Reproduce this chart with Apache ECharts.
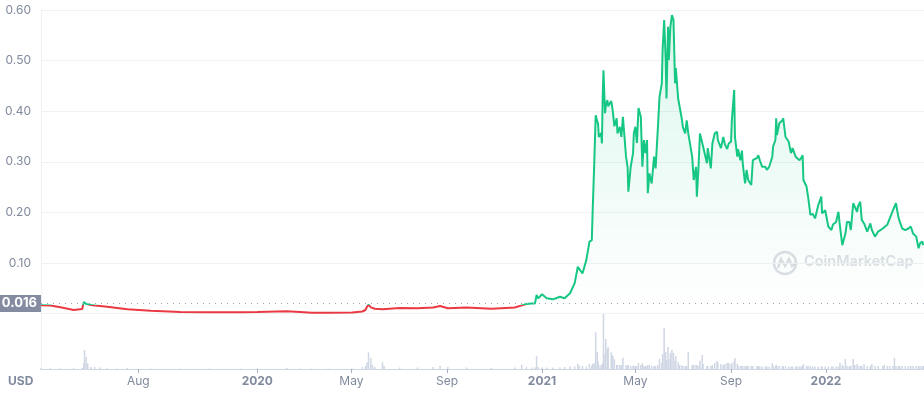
<!DOCTYPE html>
<html><head><meta charset="utf-8">
<script src="https://cdn.jsdelivr.net/npm/echarts@6/dist/echarts.min.js"></script>
<style>html,body{margin:0;padding:0;background:#fff}#c{width:924px;height:394px}</style>
</head><body><div id="c"></div>
<script>
const dates = [
'2019-03-29','2019-04-10','2019-04-23','2019-05-10','2019-05-21','2019-05-23','2019-05-24','2019-05-26','2019-05-28','2019-06-01','2019-06-06','2019-06-13','2019-06-22',
'2019-07-05','2019-07-18','2019-08-17','2019-09-24','2019-11-01','2019-12-10',
'2020-01-01','2020-02-08','2020-02-25','2020-03-11','2020-04-01','2020-05-02','2020-05-15','2020-05-19','2020-05-21','2020-05-23','2020-05-26','2020-05-28','2020-05-31',
'2020-06-10','2020-06-12','2020-07-02','2020-07-25','2020-08-14','2020-08-23','2020-09-02','2020-09-26','2020-10-28','2020-11-27',
'2020-12-06','2020-12-12','2020-12-19','2020-12-23','2020-12-25','2020-12-27',
'2021-01-01','2021-01-07','2021-01-15','2021-01-24','2021-01-30','2021-02-06','2021-02-12','2021-02-16','2021-02-18','2021-02-22','2021-02-27',
'2021-03-03','2021-03-06','2021-03-07','2021-03-09','2021-03-11','2021-03-13','2021-03-14','2021-03-15','2021-03-18','2021-03-19','2021-03-20','2021-03-21',
'2021-03-23','2021-03-24','2021-03-26','2021-03-27','2021-03-31','2021-04-01','2021-04-02','2021-04-04','2021-04-07','2021-04-08','2021-04-11','2021-04-13',
'2021-04-15','2021-04-19','2021-04-21','2021-04-22','2021-04-25','2021-04-28','2021-04-29','2021-05-01','2021-05-03','2021-05-05','2021-05-08','2021-05-10',
'2021-05-12','2021-05-14','2021-05-16','2021-05-17','2021-05-19','2021-05-22','2021-05-25','2021-05-27','2021-05-30','2021-06-01','2021-06-04','2021-06-05',
'2021-06-07','2021-06-09','2021-06-10','2021-06-12','2021-06-13','2021-06-15','2021-06-17','2021-06-19','2021-06-21','2021-06-22','2021-06-25','2021-06-27',
'2021-06-30','2021-07-01','2021-07-04','2021-07-06','2021-07-08','2021-07-13','2021-07-15','2021-07-18','2021-07-19','2021-07-21','2021-07-23','2021-07-26',
'2021-07-27','2021-08-01','2021-08-02','2021-08-06','2021-08-08','2021-08-11','2021-08-14','2021-08-15','2021-08-19','2021-08-22','2021-08-24','2021-08-27',
'2021-08-29','2021-09-01','2021-09-02','2021-09-05','2021-09-06','2021-09-09','2021-09-10','2021-09-13','2021-09-15','2021-09-16','2021-09-19','2021-09-21',
'2021-09-23','2021-09-27','2021-09-29','2021-10-04','2021-10-06','2021-10-08','2021-10-11','2021-10-15','2021-10-17','2021-10-20','2021-10-24','2021-10-25',
'2021-10-28','2021-10-29','2021-10-30','2021-11-02','2021-11-06','2021-11-07','2021-11-10','2021-11-14','2021-11-17','2021-11-19','2021-11-23','2021-11-25',
'2021-11-28','2021-11-30','2021-12-02','2021-12-03','2021-12-07','2021-12-09','2021-12-12','2021-12-15','2021-12-18','2021-12-22','2021-12-26','2021-12-27',
'2021-12-31','2022-01-04','2022-01-08','2022-01-10','2022-01-14','2022-01-17','2022-01-19','2022-01-22','2022-01-23','2022-01-26','2022-01-28','2022-01-31',
'2022-02-02','2022-02-05','2022-02-07','2022-02-10','2022-02-11','2022-02-14','2022-02-16','2022-02-19','2022-02-23','2022-02-27','2022-03-01','2022-03-05',
'2022-03-09','2022-03-15','2022-03-17','2022-03-21','2022-03-24','2022-03-28','2022-03-30','2022-04-01','2022-04-04','2022-04-06','2022-04-09','2022-04-13',
'2022-04-17','2022-04-20','2022-04-23','2022-04-27','2022-04-30','2022-05-02','2022-05-05','2022-05-06'
];
const prices = [
0.0164,0.0160,0.0122,0.0069,0.0089,0.0227,0.0210,0.0190,0.0180,0.0168,0.0160,0.0150,0.0134,
0.0110,0.0083,0.0055,0.0030,0.0026,0.0024,
0.0028,0.0043,0.0030,0.0016,0.0017,0.0018,0.0040,0.0069,0.0130,0.0174,0.0122,0.0110,0.0095,
0.0083,0.0115,0.0110,0.0103,0.0120,0.0148,0.0103,0.0120,0.0095,0.0120,
0.0160,0.0188,0.0200,0.0200,0.0366,0.0300,
0.0380,0.0300,0.0280,0.0330,0.0300,0.0400,0.0600,0.0925,0.0910,0.0790,0.1060,
0.1420,0.1450,0.1980,0.2900,0.3920,0.3800,0.3760,0.3490,0.3570,0.3360,0.4280,0.4810,
0.3960,0.4100,0.4220,0.4100,0.4200,0.4220,0.4000,0.3700,0.3860,0.3560,0.3690,0.3490,
0.3890,0.3100,0.2900,0.2410,0.2900,0.3170,0.3560,0.3690,0.3370,0.4060,0.3890,0.2900,
0.3430,0.3170,0.3430,0.2380,0.2770,0.2570,0.3100,0.2870,0.3690,0.4280,0.4550,0.5210,
0.5800,0.5010,0.4250,0.5670,0.5010,0.5670,0.5900,0.5800,0.4550,0.4850,0.4250,0.4280,
0.3820,0.3690,0.3560,0.3820,0.3560,0.3100,0.2640,0.2900,0.2310,0.2840,0.3560,0.3370,
0.3340,0.2970,0.3270,0.2870,0.3360,0.3560,0.3590,0.3430,0.3270,0.3490,0.3350,0.3250,
0.3360,0.3400,0.3820,0.4420,0.3490,0.3100,0.3250,0.3030,0.3220,0.2970,0.2570,0.2840,
0.2640,0.2540,0.3030,0.3070,0.3130,0.3030,0.2900,0.2900,0.2840,0.2900,0.3100,0.3300,
0.3430,0.3860,0.3530,0.3760,0.3820,0.3860,0.3490,0.3400,0.3170,0.3270,0.3100,0.3130,
0.3030,0.3070,0.3130,0.2640,0.2510,0.2310,0.1950,0.1970,0.1880,0.2140,0.2310,0.1980,
0.2040,0.1720,0.1650,0.1760,0.1810,0.2010,0.1720,0.1350,0.1320,0.1580,0.1810,0.1810,
0.1650,0.2180,0.2210,0.2010,0.2110,0.2210,0.1850,0.1780,0.1620,0.1780,0.1650,0.1520,
0.1620,0.1680,0.1700,0.1760,0.1880,0.2040,0.2110,0.2180,0.1910,0.1810,0.1680,0.1650,
0.1680,0.1720,0.1580,0.1520,0.1290,0.1390,0.1420,0.1350
];
const volumes = [
10,8,8,8,10,60,190,120,57,20,20,15,8,
6,12,5,5,5,5,
5,10,5,5,5,5,20,30,67,167,110,43,20,
67,30,15,15,20,33,20,15,12,15,
43,20,15,15,130,20,
15,15,15,15,20,25,25,50,30,30,25,
50,30,50,60,367,170,77,40,40,35,60,550,
150,300,200,217,167,140,130,97,40,40,40,40,
113,40,30,40,30,30,35,30,30,60,40,57,
30,30,30,40,40,30,30,30,40,100,60,150,
410,170,90,220,100,160,190,160,80,130,70,40,
35,30,30,30,170,40,40,40,40,30,83,140,
50,30,30,30,40,60,80,60,50,40,50,60,
60,50,60,80,110,50,30,30,30,30,30,30,
30,30,30,30,30,25,25,25,25,25,57,30,
30,40,30,30,30,30,30,25,25,25,25,25,
25,25,30,50,30,30,30,25,25,25,25,25,
25,25,25,25,25,25,63,40,30,100,30,30,
30,100,40,50,30,30,30,50,30,30,50,30,
30,30,40,30,30,30,110,30,30,30,30,30,
30,30,30,30,30,30,30,30
];
const tickDates = ['2019-08-01','2020-01-01','2020-05-01','2020-09-01','2021-01-01','2021-05-01','2021-09-01','2022-01-01'];
const monthNames = ['Jan','Feb','Mar','Apr','May','Jun','Jul','Aug','Sep','Oct','Nov','Dec'];
const baseline = 0.016;
const xMin = '2019-03-29', xMax = '2022-05-07';
const priceMin = 0, priceMax = 0.6, priceStep = 0.1;
const volMax = 560;

const ts = d => echarts.time.parse(d).getTime();
const priceData = dates.map((d, i) => [ts(d), prices[i]]);
const volData = dates.map((d, i) => [ts(d), volumes[i]]);
const tickValues = tickDates.map(ts);

const FONT = 'Inter, "Noto Sans", sans-serif';
const GREY = '#808a9d';
const WM = 'rgba(128,138,157,0.28)';
const chart = echarts.init(document.getElementById('c'));
chart.setOption({
  animation: false,
  textStyle: { fontFamily: FONT },
  grid: [
    { left: 41, right: 0, top: 10, height: 303.5 },
    { left: 41, right: 0, top: 313, height: 56 }
  ],
  xAxis: [
    { type: 'value', gridIndex: 0, min: ts(xMin), max: ts(xMax), show: false, splitLine: { show: false } },
    { type: 'value', gridIndex: 1, min: ts(xMin), max: ts(xMax),
      axisLine: { show: true, lineStyle: { color: '#cfd6e4', width: 1 } },
      axisTick: { show: true, customValues: tickValues, length: 4, lineStyle: { color: '#a6b0c3' } },
      splitLine: { show: false },
      axisLabel: {
        customValues: tickValues, margin: 6, color: GREY, fontSize: 12, fontFamily: FONT,
        formatter: v => { const d = new Date(v); return d.getMonth() === 0 ? '{y|' + d.getFullYear() + '}' : monthNames[d.getMonth()]; },
        rich: { y: { fontWeight: 'bold', color: GREY, fontSize: 12, fontFamily: FONT } }
      }
    }
  ],
  yAxis: [
    { type: 'value', gridIndex: 0, min: priceMin, max: priceMax, interval: priceStep,
      axisLine: { show: true, lineStyle: { color: '#eff2f5' } },
      axisTick: { show: false },
      splitLine: { lineStyle: { color: '#eff2f5' } },
      axisLabel: { margin: 10, color: GREY, fontSize: 12, fontFamily: FONT,
        formatter: v => v === 0 ? '' : v.toFixed(2) } },
    { type: 'value', gridIndex: 1, min: 0, max: volMax,
      axisLine: { show: true, lineStyle: { color: '#eff2f5' } },
      axisTick: { show: false }, axisLabel: { show: false }, splitLine: { show: false } }
  ],
  visualMap: {
    show: false, type: 'piecewise', seriesIndex: 0, dimension: 1,
    pieces: [ { gte: -1, lt: baseline, color: '#ea3943' }, { gte: baseline, lte: 10, color: '#16c784' } ]
  },
  graphic: [
    { type: 'text', left: 8, top: 375, style: { text: 'USD', fill: GREY, font: 'bold 12px ' + FONT } },
    { type: 'circle', shape: { cx: 785, cy: 263, r: 11 }, style: { fill: 'none', stroke: WM, lineWidth: 2.5 }, silent: true },
    { type: 'polyline', shape: { points: [[778, 268], [781, 259], [785, 266], [789, 259], [792, 266], [795, 263]] }, style: { fill: 'none', stroke: WM, lineWidth: 2.5 }, silent: true },
    { type: 'text', left: 804, top: 254, style: { text: 'CoinMarketCap', fill: WM, font: '600 14.5px ' + FONT }, silent: true }
  ],
  series: [
    { type: 'line', xAxisIndex: 0, yAxisIndex: 0, data: priceData, showSymbol: false,
      lineStyle: { width: 2 },
      areaStyle: { origin: baseline, color: new echarts.graphic.LinearGradient(0, 15, 0, 305, [
        { offset: 0, color: 'rgba(22,199,132,0.22)' }, { offset: 1, color: 'rgba(22,199,132,0.0)' } ], true) },
      markLine: { silent: true, symbol: 'none',
        lineStyle: { type: [1, 5], color: '#9aa3b5', width: 1 },
        label: { show: true, position: 'start', distance: 0, formatter: '0.016', color: '#fff', fontWeight: 'bold', fontSize: 13, fontFamily: FONT, backgroundColor: '#858ca2', padding: [2, 4] },
        data: [{ yAxis: baseline }] }
    },
    { type: 'bar', xAxisIndex: 1, yAxisIndex: 1, data: volData, barWidth: 1.5, itemStyle: { color: '#cfd6e4' } }
  ]
});
</script></body></html>
